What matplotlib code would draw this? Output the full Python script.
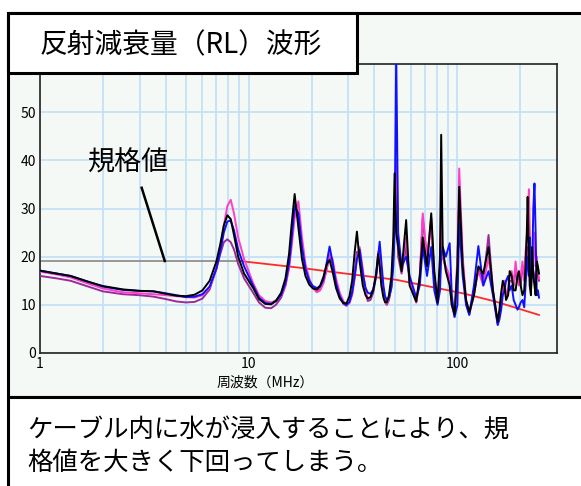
import matplotlib
matplotlib.use("Agg")
import matplotlib.pyplot as plt
from matplotlib.patches import Rectangle
from matplotlib.ticker import FixedLocator, NullFormatter

# ---------------- data ----------------
freq_mhz = [1.0, 1.2, 1.4, 1.7, 2.0, 2.5, 3.0, 3.5, 4.0, 4.5, 5.0, 5.5, 6.0,
            6.5, 7.0, 7.3, 7.6, 7.9, 8.2, 8.5, 8.9,
            9.5, 10.5, 11.2, 12.0, 12.8, 13.5, 14.3, 15.0, 15.6, 16.0, 16.6, 17.3, 18.0, 18.7,
            19.5, 20.3, 21.2, 22.0, 22.8, 23.7, 24.4, 25.2, 26.2, 27.3, 28.4, 29.4, 30.4,
            31.3, 32.2, 33.0, 34.0, 35.2, 36.3, 37.2, 38.3, 39.5, 40.8, 41.7, 42.4, 43.2,
            44.2, 45.0, 45.9, 47.0, 48.3, 49.3, 50.0,
            50.9, 52.0, 54.0, 56.8, 59.0, 63.5, 66.0, 68.2, 71.5, 74.9, 77.5, 80.3, 82.5,
            83.6, 85.0, 88.0, 91.8, 94.0, 96.9, 100, 102, 106, 110, 114, 120, 126, 133,
            141, 148,
            156, 159, 162, 165, 168, 171, 175, 178, 182, 186, 190, 194, 197, 201, 205,
            209, 212, 215, 217, 220, 222, 225, 228, 231, 234, 237, 240, 243, 246]

rl_black = [17.1, 16.5, 16.0, 14.8, 13.9, 13.2, 12.9, 12.8, 12.3, 11.9, 11.8, 12.1, 13.0,
            15.0, 19.0, 22.5, 26.5, 28.6, 27.8, 24.5, 20.0,
            16.5, 13.5, 11.2, 10.2, 10.1, 10.8, 12.5, 15.5, 20.5, 26.0, 33.0, 26.0, 19.5, 16.0,
            14.2, 13.4, 13.2, 14.0, 15.8, 18.5, 19.3, 17.0, 13.5, 11.3, 10.4, 10.3, 11.8,
            15.0, 21.0, 25.2, 19.0, 14.0, 12.0, 11.3, 11.6, 13.0, 16.5, 20.5, 18.0, 14.0,
            11.5, 10.6, 10.5, 12.0, 16.0, 24.0, 37.3,
            25.0, 22.0, 17.0, 27.6, 14.0, 10.7, 16.0, 24.0, 18.0, 29.0, 17.0, 10.5, 20.0,
            45.3, 22.0, 17.0, 14.0, 10.0, 8.0, 18.0, 34.5, 18.0, 11.0, 8.5, 12.0, 18.0, 16.5,
            22.0, 13.0,
            6.5, 9.0, 12.5, 15.0, 14.0, 11.0, 12.0, 17.0, 16.0, 13.0, 13.0, 16.0, 17.0, 14.0, 12.0,
            13.0, 18.0, 25.0, 32.4, 20.0, 14.0, 12.0, 22.0, 16.0, 14.0, 12.0, 19.0, 18.0, 16.5]

rl_blue = [17.1, 16.5, 16.0, 14.8, 13.8, 13.1, 12.9, 12.8, 12.4, 12.0, 11.6, 11.7, 12.2,
           13.8, 17.5, 21.0, 25.0, 27.3, 27.5, 25.5, 21.5,
           18.0, 14.0, 11.5, 10.4, 10.2, 10.8, 12.0, 14.5, 18.5, 23.0, 30.5, 29.0, 22.0, 17.5,
           15.0, 13.9, 13.5, 13.8, 15.2, 19.0, 22.1, 19.0, 14.5, 11.8, 10.4, 10.0, 10.6,
           12.5, 16.0, 19.5, 21.5, 16.5, 13.5, 12.5, 12.3, 13.2, 16.0, 20.0, 23.1, 19.0,
           14.0, 11.8, 11.0, 11.5, 13.5, 18.0, 25.0,
           62.0, 25.0, 18.0, 20.0, 16.0, 11.5, 14.0, 22.0, 16.0, 22.0, 13.0, 10.0, 13.0,
           20.0, 22.0, 20.0, 22.8, 12.0, 7.5, 10.0, 27.0, 16.0, 10.0, 7.9, 14.0, 22.2, 14.0,
           17.0, 12.0,
           5.8, 7.0, 9.0, 12.0, 13.0, 15.0, 16.0, 13.0, 14.0, 11.0, 10.0, 9.0, 9.5, 10.5, 11.0,
           9.5, 14.0, 18.0, 20.0, 16.0, 24.0, 13.0, 17.0, 30.0, 35.2, 25.0, 12.0, 13.0, 11.5]

rl_pink = [16.9, 16.3, 15.7, 14.4, 13.4, 12.6, 12.4, 12.2, 12.0, 11.8, 11.6, 11.5, 12.0,
           13.6, 17.5, 21.5, 26.5, 30.5, 31.8, 29.0, 24.0,
           19.5, 14.5, 12.0, 10.8, 10.5, 10.9, 11.8, 14.0, 17.5, 21.5, 28.0, 31.5, 24.0, 18.5,
           15.5, 13.5, 12.6, 13.0, 14.5, 17.5, 20.5, 19.5, 15.5, 12.5, 10.8, 10.0, 10.4,
           12.0, 15.5, 20.0, 22.0, 17.5, 13.0, 11.2, 11.5, 13.0, 16.5, 21.0, 21.5, 17.0,
           13.0, 11.0, 10.2, 11.5, 15.0, 21.0, 30.0,
           40.0, 22.0, 17.5, 24.0, 15.0, 10.5, 16.0, 29.0, 20.0, 27.0, 16.0, 11.0, 18.0,
           27.0, 20.0, 18.0, 16.0, 10.0, 8.0, 20.0, 38.3, 20.0, 11.0, 8.5, 13.0, 17.0, 14.0,
           20.0, 12.5,
           6.2, 8.0, 10.0, 13.0, 15.0, 12.0, 13.0, 16.0, 17.0, 14.0, 19.0, 15.0, 14.0, 16.0, 19.0,
           15.0, 21.0, 24.0, 28.0, 34.0, 26.0, 17.0, 18.0, 20.0, 25.0, 18.0, 20.0, 17.0, 15.5]

rl_purple = [16.0, 15.5, 15.0, 13.8, 12.8, 12.2, 12.0, 11.7, 11.2, 10.7, 10.5, 10.6, 11.3,
             13.2, 17.5, 20.5, 23.0, 23.6, 23.0, 21.5, 18.5,
             15.5, 12.5, 10.5, 9.4, 9.3, 10.0, 11.5, 14.0, 18.0, 22.5, 30.0, 29.0, 22.5, 17.5,
             15.0, 13.6, 13.0, 13.3, 14.8, 17.8, 20.0, 18.5, 14.5, 11.8, 10.2, 9.8, 10.5,
             12.5, 16.5, 21.0, 20.0, 16.0, 12.5, 10.8, 11.0, 12.5, 16.0, 20.0, 20.0, 16.0,
             12.5, 10.5, 10.0, 11.0, 14.0, 20.0, 28.0,
             33.0, 20.0, 16.5, 22.0, 14.5, 10.5, 15.0, 28.0, 19.0, 28.0, 15.0, 10.5, 16.0,
             25.0, 20.0, 17.5, 15.0, 10.0, 7.5, 18.0, 32.0, 19.0, 10.5, 8.0, 12.0, 17.5, 15.0,
             24.5, 13.0,
             6.0, 8.5, 11.0, 13.0, 14.0, 12.0, 12.5, 15.0, 15.0, 14.0, 17.0, 16.0, 15.0, 14.0, 18.0,
             16.0, 20.0, 19.0, 22.0, 19.0, 18.0, 16.0, 19.0, 17.0, 16.0, 15.0, 17.0, 16.0, 15.0]

spec_flat_freq = [1.0, 9.06]
spec_flat_val = [19.1, 19.1]
spec_freq = [9.06, 17.6, 24.4, 50.9, 106, 153, 246]
spec_val = [19.1, 17.7, 16.9, 15.2, 12.4, 10.65, 7.9]

y_ticks = [0, 10, 20, 30, 40, 50]
x_ticks = [1, 10, 100]
x_tick_labels = ["1", "10", "100"]
x_minor = [2, 3, 4, 5, 6, 7, 8, 9, 20, 30, 40, 50, 60, 70, 80, 90, 200]

title_text = "反射減衰量（RL）波形"
xlabel_text = "周波数（MHz）"
spec_label = "規格値"
caption_lines = ["ケーブル内に水が浸入することにより、規", "格値を大きく下回ってしまう。"]

# ---------------- fonts ----------------
CJK = ["Noto Sans CJK JP", "DejaVu Sans"]
plt.rcParams["font.family"] = CJK

W, H = 581, 486
fig = plt.figure(figsize=(W / 100, H / 100), dpi=100)
fig.patch.set_facecolor("white")


def fx(px):
    return px / W


def fy(py):
    return 1 - py / H


panel_bg = "#f4f9f6"
# chart panel
fig.add_artist(Rectangle((fx(8), fy(397)), fx(590) - fx(8), fy(13) - fy(397),
                         transform=fig.transFigure, facecolor=panel_bg,
                         edgecolor="black", lw=2.2, zorder=-2))
# bottom caption box
fig.add_artist(Rectangle((fx(8), fy(495)), fx(590) - fx(8), fy(397) - fy(495),
                         transform=fig.transFigure, facecolor="white",
                         edgecolor="black", lw=2.2, zorder=-1))

ax = fig.add_axes([fx(40), fy(353), fx(557) - fx(40), fy(64) - fy(353)])
ax.set_facecolor(panel_bg)
ax.set_xscale("log")
ax.set_xlim(1, 300)
ax.set_ylim(0, 60)

grid_c = "#c6e0f7"
ax.xaxis.set_major_locator(FixedLocator(x_ticks))
ax.xaxis.set_minor_locator(FixedLocator(x_minor))
ax.xaxis.set_minor_formatter(NullFormatter())
ax.set_xticks(x_ticks)
ax.set_xticklabels(x_tick_labels)
ax.set_yticks(y_ticks)
ax.grid(True, which="both", axis="x", color=grid_c, lw=1.3)
ax.grid(True, which="major", axis="y", color=grid_c, lw=1.3)
ax.set_axisbelow(True)
ax.tick_params(which="both", length=0, pad=3, labelsize=10)
for s in ax.spines.values():
    s.set_color("#222222")
    s.set_linewidth(1.2)

ax.plot(spec_flat_freq, spec_flat_val, color="#888888", lw=1.2, zorder=2)
ax.plot(spec_freq, spec_val, color="#ff2a2a", lw=1.3, zorder=2)

ax.plot(freq_mhz, rl_purple, color="#9b2a9b", lw=1.4, zorder=3)
ax.plot(freq_mhz, rl_pink, color="#ff3fc8", lw=1.4, zorder=3)
ax.plot(freq_mhz, rl_blue, color="#1010ff", lw=1.4, zorder=3)
ax.plot(freq_mhz, rl_black, color="black", lw=1.4, zorder=4)

# annotation for spec
ax.text(2.64, 39.4, spec_label, fontsize=19.5, ha="center", va="center", family=CJK)
ax.plot([3.07, 3.96], [34.3, 19.1], color="black", lw=1.8, zorder=5)

fig.text(fx(265), fy(383), xlabel_text, fontsize=10, ha="center", va="center", family=CJK)

# title box
fig.add_artist(Rectangle((fx(8), fy(73)), fx(357) - fx(8), fy(13) - fy(73),
                         transform=fig.transFigure, facecolor="white",
                         edgecolor="black", lw=2.2, zorder=5))
fig.text(fx(40), fy(45), title_text, fontsize=20, ha="left", va="center",
         family=CJK, zorder=6)

fig.text(fx(27), fy(430), caption_lines[0], fontsize=18.3, ha="left", va="center", family=CJK)
fig.text(fx(27), fy(463), caption_lines[1], fontsize=18.3, ha="left", va="center", family=CJK)

fig.savefig("out.png", dpi=100)
